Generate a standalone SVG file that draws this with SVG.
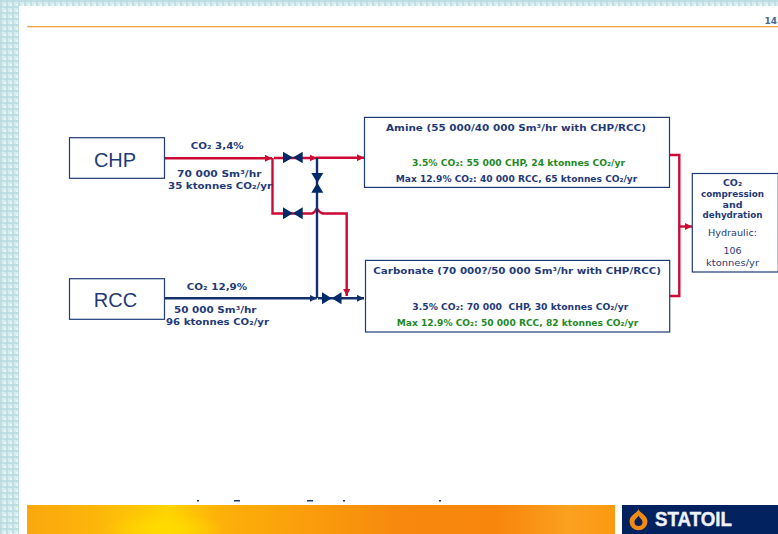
<svg xmlns="http://www.w3.org/2000/svg" width="778" height="534" viewBox="0 0 778 534">
<style>
text{font-family:"DejaVu Sans","Liberation Sans",sans-serif}
.b{font-weight:bold;font-size:9.5px;fill:#1f3a78}
.g{font-weight:bold;font-size:9.5px;fill:#1f8a1f}
.r{font-size:9.5px;fill:#1f3a78}
.big{font-family:"Liberation Sans",Arial,sans-serif;font-size:20px;fill:#1f3a78}
.logo{font-family:"Liberation Sans",Arial,sans-serif;font-weight:bold;font-size:20px;fill:#eef1f6;stroke:#eef1f6;stroke-width:.4}
.box{fill:#fff;stroke:#1f3a78;stroke-width:1.2}
.red{fill:none;stroke:#cc0a35;stroke-width:2.4}
.blue{fill:none;stroke:#12306e;stroke-width:2.4}
.valve{fill:#012a6b}
</style>
<defs>
<pattern id="plaid" width="6" height="6" patternUnits="userSpaceOnUse">
<rect width="6" height="6" fill="#d6ecef"/>
<rect x="0" width="2" height="6" fill="#b5dbe1" opacity=".7"/>
<rect y="0" width="6" height="2" fill="#b5dbe1" opacity=".7"/>
<rect x="4" y="4" width="2" height="2" fill="#ebf6f7"/>
</pattern>
<linearGradient id="ban" x1="0" x2="1" y1="0" y2="0">
<stop offset="0" stop-color="#fba70e"/>
<stop offset=".12" stop-color="#fdb60a"/>
<stop offset=".24" stop-color="#ffd400"/>
<stop offset=".33" stop-color="#fdb00a"/>
<stop offset=".5" stop-color="#fa9a0c"/>
<stop offset=".63" stop-color="#f7890e"/>
<stop offset=".8" stop-color="#f8860c"/>
<stop offset=".92" stop-color="#fba020"/>
<stop offset="1" stop-color="#fb9a10"/>
</linearGradient>
<radialGradient id="sun" cx=".5" cy=".8" r=".5">
<stop offset="0" stop-color="#ffdc00"/>
<stop offset="1" stop-color="#ffdc00" stop-opacity="0"/>
</radialGradient>
<marker id="ar" markerWidth="7" markerHeight="7" refX="7" refY="3.5" orient="auto" markerUnits="userSpaceOnUse"><path d="M0 0L7 3.5L0 7z" fill="#cc0a35"/></marker>
<marker id="ab" markerWidth="7" markerHeight="7" refX="7" refY="3.5" orient="auto" markerUnits="userSpaceOnUse"><path d="M0 0L7 3.5L0 7z" fill="#12306e"/></marker>
</defs>
<rect width="778" height="534" fill="#fff"/>
<rect width="778" height="6" fill="url(#plaid)"/>
<rect width="19" height="534" fill="url(#plaid)"/>
<rect x="27" y="26" width="751" height="1.3" fill="#f4a142"/>
<text x="777" y="24" text-anchor="end" font-size="9" font-weight="bold" fill="#4a6a96">14</text>

<g id="footer">
<rect x="27" y="505" width="588" height="29" fill="url(#ban)"/>
<rect x="105" y="505" width="120" height="29" fill="url(#sun)"/>
<g fill="#1f3a78"><rect x="197" y="500" width="2" height="1.5"/><rect x="234" y="500" width="6" height="1.5"/><rect x="307" y="500" width="6" height="1.5"/><rect x="343" y="500" width="2" height="1.5"/><rect x="439" y="500" width="2" height="1.5"/></g>
</g>
<g id="logo">
<rect x="622" y="505" width="156" height="29" fill="#02225f"/>
<path d="M638.5 509C639.5 513 647.5 515 647.5 521.5A9 8.7 0 0 1 629.5 521.5C629.5 515 637.5 513 638.5 509Z" fill="#f08a12"/>
<path d="M638.5 515.5C639 517.5 642.5 519 642.5 522A4 4 0 0 1 634.5 522C634.5 519 638 517.5 638.5 515.5Z" fill="#02225f"/>
<text class="logo" x="655" y="526" textLength="77" lengthAdjust="spacingAndGlyphs">STATOIL</text>
</g>

<g id="connectors">
<path class="red" d="M165 158.3H272" marker-end="url(#ar)"/>
<path class="red" d="M274 158H316.7" marker-end="url(#ar)"/>
<path class="red" d="M316 157.7H364" marker-end="url(#ar)"/>
<path class="red" d="M272.5 158V213.5H312Q314.5 213 316.8 208.5Q320 213 323 213.5H346.7V296" marker-end="url(#ar)"/>
<path class="blue" d="M317 158V298"/>
<path class="blue" d="M165 298.3H316.7" marker-end="url(#ab)"/>
<path class="blue" d="M318 298.3H364" marker-end="url(#ab)"/>
<path class="red" d="M670 155H679.3V296H670"/>
<path class="red" d="M679.3 226.5H692" marker-end="url(#ar)"/>
<path class="red" d="M772.5 230H778"/>
</g>

<g id="valves">
<path class="valve" d="M283 151.7L302.7 163.3V151.7L283 163.3Z"/>
<path class="valve" d="M283 207.3L302.7 219.3V207.3L283 219.3Z"/>
<path class="valve" d="M322 292.3L341.5 304.3V292.3L322 304.3Z"/>
<path class="valve" d="M311.3 173L323.3 192.7H311.3L323.3 173Z"/>
</g>

<g id="chp">
<rect class="box" x="69.5" y="137.7" width="95" height="40.6"/>
<text class="big" x="115" y="166.5" text-anchor="middle">CHP</text>
</g>
<g id="rcc">
<rect class="box" x="69.5" y="278.7" width="95" height="40.6"/>
<text class="big" x="115.5" y="306.5" text-anchor="middle">RCC</text>
</g>
<g id="chp-labels">
<text class="b" x="190.7" y="149" textLength="53" lengthAdjust="spacingAndGlyphs">CO₂ 3,4%</text>
<text class="b" x="177" y="177" textLength="84.5" lengthAdjust="spacingAndGlyphs">70 000 Sm³/hr</text>
<text class="b" x="168" y="189" textLength="104" lengthAdjust="spacingAndGlyphs">35 ktonnes CO₂/yr</text>
</g>
<g id="rcc-labels">
<text class="b" x="186.7" y="290" textLength="60.5" lengthAdjust="spacingAndGlyphs">CO₂ 12,9%</text>
<text class="b" x="174" y="313" textLength="82.5" lengthAdjust="spacingAndGlyphs">50 000 Sm³/hr</text>
<text class="b" x="166" y="325" textLength="103" lengthAdjust="spacingAndGlyphs">96 ktonnes CO₂/yr</text>
</g>
<g id="amine">
<rect class="box" x="364.5" y="117.4" width="305" height="70"/>
<text class="b" x="386" y="131" textLength="260" lengthAdjust="spacingAndGlyphs">Amine (55 000/40 000 Sm³/hr with CHP/RCC)</text>
<text class="g" x="412" y="166" textLength="213" lengthAdjust="spacingAndGlyphs">3.5% CO₂: 55 000 CHP, 24 ktonnes CO₂/yr</text>
<text class="b" x="395.7" y="182" textLength="241.6" lengthAdjust="spacingAndGlyphs">Max 12.9% CO₂: 40 000 RCC, 65 ktonnes CO₂/yr</text>
</g>
<g id="carbonate">
<rect class="box" x="365.5" y="260.4" width="304.2" height="71.6"/>
<text class="b" x="373.3" y="274" textLength="287.7" lengthAdjust="spacingAndGlyphs">Carbonate (70 000?/50 000 Sm³/hr with CHP/RCC)</text>
<text class="b" x="412.3" y="310" textLength="216" lengthAdjust="spacingAndGlyphs" xml:space="preserve">3.5% CO₂: 70 000  CHP, 30 ktonnes CO₂/yr</text>
<text class="g" x="396.7" y="326" textLength="241.6" lengthAdjust="spacingAndGlyphs">Max 12.9% CO₂: 50 000 RCC, 82 ktonnes CO₂/yr</text>
</g>
<g id="compression">
<rect class="box" x="692.3" y="173.5" width="86" height="98.5"/>
<g text-anchor="middle">
<text class="b" x="732.5" y="186">CO₂</text>
<text class="b" x="732.5" y="197" textLength="63" lengthAdjust="spacingAndGlyphs">compression</text>
<text class="b" x="732.5" y="208">and</text>
<text class="b" x="732.5" y="218" textLength="60" lengthAdjust="spacingAndGlyphs">dehydration</text>
<text class="r" x="732.5" y="236" textLength="49" lengthAdjust="spacingAndGlyphs">Hydraulic:</text>
<text class="r" x="732.5" y="254" textLength="18" lengthAdjust="spacingAndGlyphs">106</text>
<text class="r" x="732.5" y="266" textLength="53" lengthAdjust="spacingAndGlyphs">ktonnes/yr</text>
</g>
</g>
</svg>
